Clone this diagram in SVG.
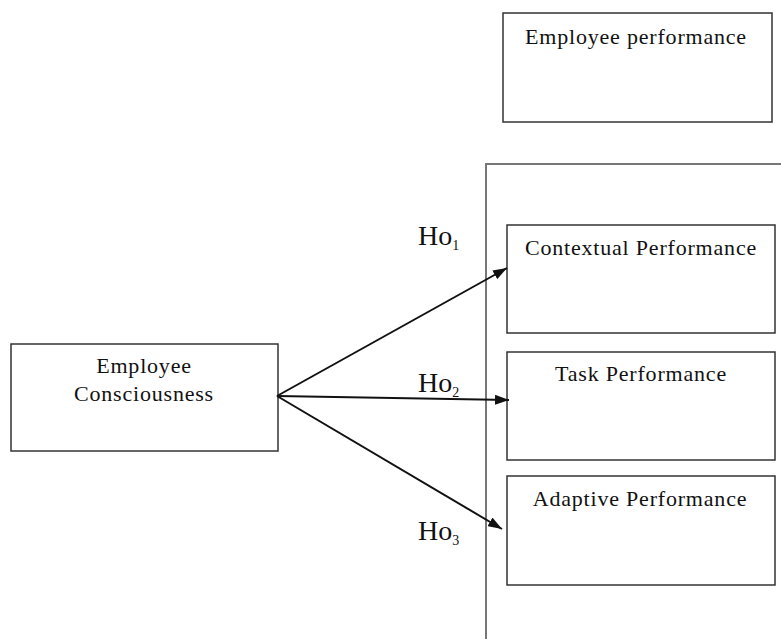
<svg xmlns="http://www.w3.org/2000/svg" width="781" height="639" viewBox="0 0 781 639">
<defs>
<style>
.box{fill:#fff;stroke:#333;stroke-width:1.5}
.frame{fill:none;stroke:#777;stroke-width:2}
.lbl{font-family:"Liberation Serif","Times New Roman",serif;font-size:22px;fill:#111;text-anchor:middle;letter-spacing:0.8px}
.ho{font-family:"Liberation Serif","Times New Roman",serif;font-size:28px;fill:#111}
.sub{font-size:14px}
.conn{stroke:#111;stroke-width:2;fill:none;marker-end:url(#arr)}
</style>
<marker id="arr" viewBox="0 0 14 10" refX="14" refY="5" markerWidth="7" markerHeight="5" orient="auto" markerUnits="strokeWidth">
<path d="M0,0 L14,5 L0,10 z" fill="#111"/>
</marker>
</defs>
<rect width="781" height="639" fill="#fff"/>
<g id="frame"><path class="frame" d="M486,639 L486,164 L781,164"/></g>
<g id="employee-performance">
<rect class="box" x="503" y="13" width="269" height="109"/>
<text class="lbl" x="636" y="44">Employee performance</text>
</g>
<g id="contextual-performance">
<rect class="box" x="507" y="225" width="268" height="108"/>
<text class="lbl" x="641" y="255">Contextual Performance</text>
</g>
<g id="task-performance">
<rect class="box" x="507" y="352" width="268" height="108"/>
<text class="lbl" x="641" y="381">Task Performance</text>
</g>
<g id="adaptive-performance">
<rect class="box" x="507" y="476" width="268" height="109"/>
<text class="lbl" x="640" y="506">Adaptive Performance</text>
</g>
<g id="employee-consciousness">
<rect class="box" x="11" y="344" width="267" height="107"/>
<text class="lbl" x="144" y="373">Employee</text>
<text class="lbl" x="144" y="401">Consciousness</text>
</g>
<g id="connectors">
<line class="conn" x1="277" y1="396" x2="507" y2="268"/>
<line class="conn" x1="277" y1="396" x2="509" y2="400"/>
<line class="conn" x1="277" y1="396" x2="502" y2="529"/>
</g>
<g id="labels">
<text class="ho" x="418" y="245">Ho<tspan class="sub" dy="5">1</tspan></text>
<text class="ho" x="418" y="392">Ho<tspan class="sub" dy="5">2</tspan></text>
<text class="ho" x="418" y="540">Ho<tspan class="sub" dy="5">3</tspan></text>
</g>
</svg>
